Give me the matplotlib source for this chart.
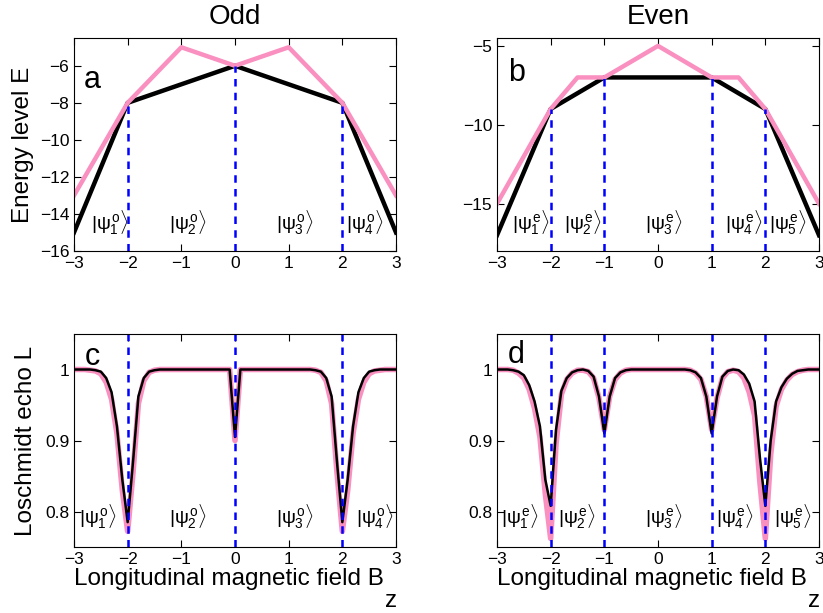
import numpy as np
import matplotlib
matplotlib.use('Agg')
import matplotlib.pyplot as plt

plt.rcParams['font.family'] = ['Liberation Sans', 'DejaVu Sans']
plt.rcParams['mathtext.fontset'] = 'custom'
plt.rcParams['mathtext.rm'] = 'Liberation Sans'
plt.rcParams['mathtext.it'] = 'Liberation Sans'
plt.rcParams['mathtext.bf'] = 'Liberation Sans:bold'
plt.rcParams['xtick.direction'] = 'in'
plt.rcParams['ytick.direction'] = 'in'
plt.rcParams['xtick.top'] = True
plt.rcParams['ytick.right'] = True

# energy levels
bz_odd = [-3, -2, -1, 0, 1, 2, 3]
e_odd_black = [-15, -8, -7, -6, -7, -8, -15]
e_odd_pink = [-13, -8, -5, -6, -5, -8, -13]

bz_even_black = [-3, -2, -1, 0, 1, 2, 3]
e_even_black = [-17, -9, -7, -7, -7, -9, -17]
bz_even_pink = [-3, -2, -1.5, -1, 0, 1, 1.5, 2, 3]
e_even_pink = [-15, -9, -7, -7, -5, -7, -7, -9, -15]

cross_odd = [-2, 0, 2]
cross_odd_top = [-8, -6, -8]
cross_even = [-2, -1, 1, 2]
cross_even_top = [-9, -7, -7, -9]

# loschmidt echo, Bz = -3 .. 3 step 0.1
bz = np.linspace(-3, 3, 61)
L_odd_black = [1.000, 1.000, 1.000, 1.000, 0.999, 0.997, 0.988, 0.968, 0.920, 0.845,
               0.785, 0.870, 0.962, 0.988, 0.997, 0.999, 1.000, 1.000, 1.000, 1.000,
               1.000, 1.000, 1.000, 1.000, 1.000, 1.000, 1.000, 1.000, 1.000, 1.000,
               0.905,
               1.000, 1.000, 1.000, 1.000, 1.000, 1.000, 1.000, 1.000, 1.000, 1.000,
               1.000, 1.000, 1.000, 1.000, 0.999, 0.997, 0.988, 0.962, 0.870, 0.785,
               0.845, 0.920, 0.968, 0.988, 0.997, 0.999, 1.000, 1.000, 1.000, 1.000]
L_odd_pink = [1.000, 1.000, 1.000, 0.999, 0.998, 0.994, 0.982, 0.958, 0.910, 0.830,
              0.772, 0.855, 0.952, 0.984, 0.996, 0.999, 1.000, 1.000, 1.000, 1.000,
              1.000, 1.000, 1.000, 1.000, 1.000, 1.000, 1.000, 1.000, 1.000, 1.000,
              0.900,
              1.000, 1.000, 1.000, 1.000, 1.000, 1.000, 1.000, 1.000, 1.000, 1.000,
              1.000, 1.000, 1.000, 1.000, 0.999, 0.996, 0.984, 0.952, 0.855, 0.772,
              0.830, 0.910, 0.958, 0.982, 0.994, 0.998, 0.999, 1.000, 1.000, 1.000]
L_even_black = [1.000, 1.000, 1.000, 0.999, 0.997, 0.992, 0.978, 0.955, 0.920, 0.845,
                0.808, 0.915, 0.970, 0.988, 0.996, 0.999, 1.000, 0.998, 0.990, 0.962,
                0.910, 0.962, 0.988, 0.996, 0.999, 1.000, 1.000, 1.000, 1.000, 1.000,
                1.000,
                1.000, 1.000, 1.000, 1.000, 1.000, 0.999, 0.996, 0.988, 0.962, 0.910,
                0.962, 0.990, 0.998, 1.000, 0.999, 0.993, 0.980, 0.955, 0.875, 0.808,
                0.900, 0.955, 0.975, 0.987, 0.994, 0.998, 0.999, 1.000, 1.000, 1.000]
L_even_pink = [1.000, 1.000, 1.000, 0.999, 0.995, 0.988, 0.972, 0.945, 0.905, 0.825,
               0.762, 0.895, 0.965, 0.986, 0.995, 0.999, 0.999, 0.997, 0.988, 0.960,
               0.915, 0.962, 0.986, 0.995, 0.999, 1.000, 1.000, 1.000, 1.000, 1.000,
               1.000,
               1.000, 1.000, 1.000, 1.000, 1.000, 0.999, 0.995, 0.986, 0.962, 0.915,
               0.960, 0.988, 0.997, 0.999, 0.997, 0.988, 0.968, 0.935, 0.840, 0.762,
               0.880, 0.948, 0.972, 0.985, 0.993, 0.997, 0.999, 1.000, 1.000, 1.000]

odd_labels = [r'$|\psi^{\rm o}_{1}\rangle$', r'$|\psi^{\rm o}_{2}\rangle$',
              r'$|\psi^{\rm o}_{3}\rangle$', r'$|\psi^{\rm o}_{4}\rangle$']
even_labels = [r'$|\psi^{\rm e}_{1}\rangle$', r'$|\psi^{\rm e}_{2}\rangle$',
               r'$|\psi^{\rm e}_{3}\rangle$', r'$|\psi^{\rm e}_{4}\rangle$',
               r'$|\psi^{\rm e}_{5}\rangle$']

pink = '#f990c0'
blue = '#0000ff'
dash = (0, (3, 2.5))

fig = plt.figure(figsize=(8.23, 6.13), dpi=100)
W, H = 823.0, 613.0
def box(l, t, r, b):
    return [l / W, 1 - b / H, (r - l) / W, (b - t) / H]

ax_a = fig.add_axes(box(74, 38, 396, 251))
ax_b = fig.add_axes(box(497, 38, 819, 251))
ax_c = fig.add_axes(box(74, 334, 396, 547))
ax_d = fig.add_axes(box(497, 334, 819, 547))

def bz_label(ax):
    lab = ax.set_xlabel('Longitudinal magnetic field B', fontsize=17.5, labelpad=0)
    ax.xaxis.set_label_coords(0.48, -0.1)
    lab.set_va('top')
    ax.annotate('z', xy=(1, 0), xycoords=lab, xytext=(1, 0),
                textcoords='offset points', fontsize=17.5, ha='left', va='top')

# a
ax_a.plot(bz_odd, e_odd_black, color='k', lw=3.2)
ax_a.plot(bz_odd, e_odd_pink, color=pink, lw=3.2)
ax_a.vlines(cross_odd, -16, cross_odd_top, colors=blue, linestyles=dash, lw=1.8)
ax_a.set_xlim(-3, 3)
ax_a.set_ylim(-16, -4.5)
ax_a.set_yticks([-16, -14, -12, -10, -8, -6])
ax_a.set_ylabel('Energy level E', fontsize=17.5, labelpad=4)
ax_a.set_title('Odd', fontsize=20, pad=10)
ax_a.text(-2.66, -6.75, 'a', fontsize=22, ha='center', va='center')
for xp, s in zip([-2.34, -0.89, 1.12, 2.42], odd_labels):
    ax_a.text(xp, -14.5, s, fontsize=14, ha='center', va='center')

# b
ax_b.plot(bz_even_black, e_even_black, color='k', lw=3.2)
ax_b.plot(bz_even_pink, e_even_pink, color=pink, lw=3.2)
ax_b.vlines(cross_even, -18, cross_even_top, colors=blue, linestyles=dash, lw=1.8)
ax_b.set_xlim(-3, 3)
ax_b.set_ylim(-18, -4.5)
ax_b.set_yticks([-15, -10, -5])
ax_b.set_title('Even', fontsize=20, pad=10)
ax_b.text(-2.64, -6.73, 'b', fontsize=22, ha='center', va='center')
for xp, s in zip([-2.38, -1.41, 0.10, 1.60, 2.41], even_labels):
    ax_b.text(xp, -16.2, s, fontsize=14, ha='center', va='center')

# c
ax_c.plot(bz, L_odd_pink, color=pink, lw=4)
ax_c.plot(bz, L_odd_black, color='k', lw=1.8)
for xv in cross_odd:
    ax_c.axvline(xv, color=blue, ls=dash, lw=1.8)
ax_c.set_xlim(-3, 3)
ax_c.set_ylim(0.75, 1.05)
ax_c.set_yticks([0.8, 0.9, 1.0])
ax_c.set_yticklabels(['0.8', '0.9', '1'])
ax_c.set_ylabel('Loschmidt echo L', fontsize=17.5, labelpad=6)
bz_label(ax_c)
ax_c.text(-2.66, 1.018, 'c', fontsize=22, ha='center', va='center')
for xp, s in zip([-2.55, -0.885, 1.12, 2.61], odd_labels):
    ax_c.text(xp, 0.793, s, fontsize=14, ha='center', va='center')

# d
ax_d.plot(bz, L_even_pink, color=pink, lw=4)
ax_d.plot(bz, L_even_black, color='k', lw=1.8)
for xv in cross_even:
    ax_d.axvline(xv, color=blue, ls=dash, lw=1.8)
ax_d.set_xlim(-3, 3)
ax_d.set_ylim(0.75, 1.05)
ax_d.set_yticks([0.8, 0.9, 1.0])
ax_d.set_yticklabels(['0.8', '0.9', '1'])
bz_label(ax_d)
ax_d.text(-2.64, 1.02, 'd', fontsize=22, ha='center', va='center')
for xp, s in zip([-2.57, -1.51, 0.11, 1.42, 2.51], even_labels):
    ax_d.text(xp, 0.793, s, fontsize=14, ha='center', va='center')

for ax in [ax_a, ax_b, ax_c, ax_d]:
    ax.set_xticks([-3, -2, -1, 0, 1, 2, 3])
    ax.tick_params(labelsize=12.5, length=5, width=0.8)
    for sp in ax.spines.values():
        sp.set_linewidth(0.8)

fig.savefig('out.png', dpi=100)
